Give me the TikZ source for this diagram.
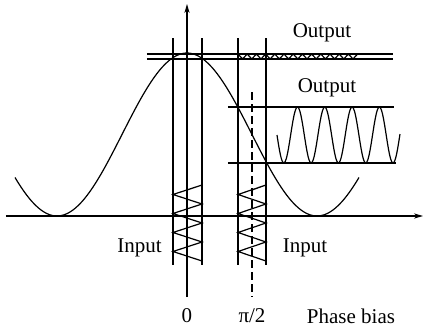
\documentclass[tikz,border=0pt]{standalone}
\usepackage{fontspec}
\setmainfont{Liberation Serif}
\usetikzlibrary{arrows.meta}
\begin{document}
\begin{tikzpicture}[x=0.5pt,y=-0.5pt,
  ln/.style={line width=0.6pt},
  axisarrow/.style={ln,-{Stealth[length=4.5pt,width=2.6pt]}},
  lbl/.style={font=\fontsize{10.5}{12}\selectfont,inner sep=0pt}]
\useasboundingbox (0,0) rectangle (425,327);
% axes
\coordinate (xs) at (6,216);
\coordinate (xe) at (423,216);
\coordinate (ys) at (187,297);
\coordinate (ye) at (187,4);
\draw[axisarrow] (xs) -- (xe);
\draw[axisarrow] (ys) -- (ye);
% transfer curve
\draw[ln,smooth] plot[domain=15:359,samples=120] (\x,{134.5-81.5*cos((\x-187)*1.384615)});
% bias windows
\coordinate (a1) at (173,38); \coordinate (a2) at (173,265);
\coordinate (b1) at (202,38); \coordinate (b2) at (202,265);
\coordinate (c1) at (238,38); \coordinate (c2) at (238,265);
\coordinate (d1) at (266,38); \coordinate (d2) at (266,265);
\draw[ln] (a1) -- (a2);
\draw[ln] (b1) -- (b2);
\draw[ln] (c1) -- (c2);
\draw[ln] (d1) -- (d2);
\coordinate (p1) at (252,92); \coordinate (p2) at (252,297);
\draw[ln,dash pattern=on 4pt off 2pt] (p1) -- (p2);
% output levels
\coordinate (o1s) at (147,54); \coordinate (o1e) at (393,54);
\coordinate (o2s) at (147,59); \coordinate (o2e) at (393,59);
\draw[ln] (o1s) -- (o1e);
\draw[ln] (o2s) -- (o2e);
\coordinate (o3s) at (228,107); \coordinate (o3e) at (394,107);
\coordinate (o4s) at (228,163); \coordinate (o4e) at (396,163);
\draw[ln] (o3s) -- (o3e);
\draw[ln] (o4s) -- (o4e);
% small output at 0 bias
\draw[ln] (238,54) \foreach \i in {1,...,26} { -- ({238+4.6*\i},{mod(\i,2)==1 ? 59 : 54}) };
% large output at pi/2 bias
\draw[ln,smooth] plot[domain=277:400,samples=120] (\x,{135+28*sin((\x-277)*13.18681)});
% inputs
\draw[ln] (187,190) -- (202,185) \foreach \k in {0,...,3} { -- (173,{194.5+19*\k}) -- (202,{204+19*\k}) };
\draw[ln] (252,190) -- (266,185) \foreach \k in {0,...,3} { -- (238,{194.5+19*\k}) -- (266,{204+19*\k}) };
% labels
\node[lbl] (out1) at (322,33) {Output};
\node[lbl] (out2) at (327,88) {Output};
\node[lbl] (in1) at (139.5,248) {Input};
\node[lbl] (in2) at (305,248) {Input};
\node[lbl] (zero) at (187,316) {0};
\node[lbl] (pihalf) at (252,316) {π/2};
\node[lbl] (pb) at (351,316) {Phase bias};
\end{tikzpicture}
\end{document}
